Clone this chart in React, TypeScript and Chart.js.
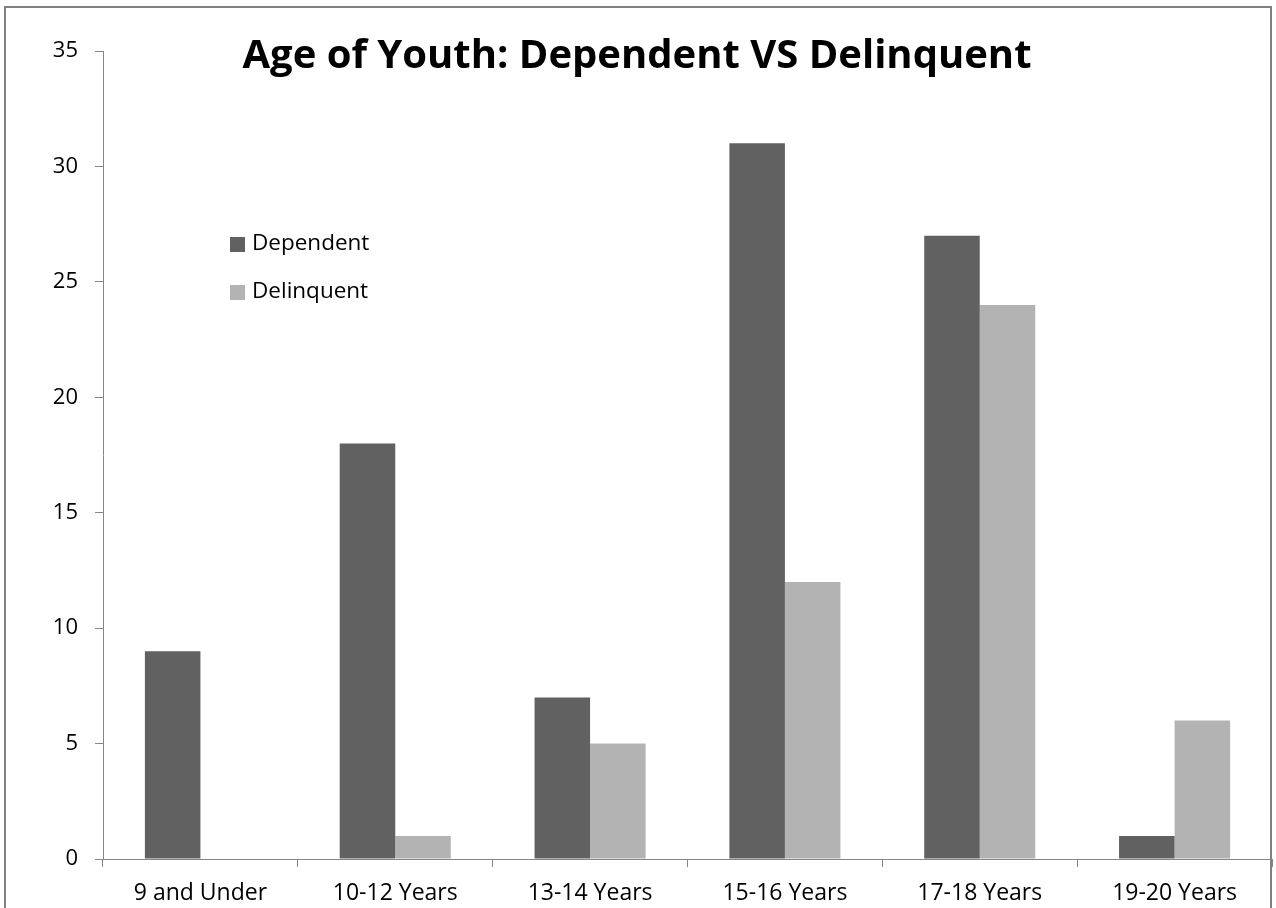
import React, { useEffect, useRef } from "react";
import { Chart, registerables } from "chart.js";

Chart.register(...registerables);

const categories = ["9 and Under", "10-12 Years", "13-14 Years", "15-16 Years", "17-18 Years", "19-20 Years"];
const dependentValues = [9, 18, 7, 31, 27, 1];
const delinquentValues = [0, 1, 5, 12, 24, 6];
const yTickValues = [0, 5, 10, 15, 20, 25, 30, 35];
const seriesLabels = ["Dependent", "Delinquent"];
const seriesColors = ["#616161", "#B3B3B3"];
const titleText = "Age of Youth: Dependent VS Delinquent";

const FONT = "'Open Sans', Lato, sans-serif";
const AXIS_COLOR = "#868686";

const framePlugin = {
  id: "frame",
  beforeDraw(chart: any) {
    const ctx = chart.ctx;
    ctx.save();
    ctx.fillStyle = "#ffffff";
    ctx.fillRect(0, 0, chart.width, chart.height);
    ctx.strokeStyle = "#808080";
    ctx.lineWidth = 2;
    ctx.strokeRect(5, 7, chart.width - 10, chart.height + 20);
    ctx.restore();
  },
};

const overlayPlugin = {
  id: "overlay",
  afterDraw(chart: any) {
    const ctx = chart.ctx;
    ctx.save();
    ctx.fillStyle = "#000000";
    ctx.font = `bold 40px ${FONT}`;
    ctx.textAlign = "center";
    ctx.textBaseline = "alphabetic";
    ctx.fillText(titleText, 637, 68);

    ctx.font = `22.5px ${FONT}`;
    ctx.textAlign = "left";
    ctx.textBaseline = "middle";
    chart.data.datasets.forEach((ds: any, i: number) => {
      const cy = 244 + i * 48;
      ctx.fillStyle = ds.backgroundColor;
      ctx.fillRect(230, cy - 7, 15, 15);
      ctx.fillStyle = "#000000";
      ctx.fillText(ds.label, 252, cy);
    });
    ctx.restore();
  },
};

export default function App() {
  const ref = useRef<HTMLCanvasElement>(null);

  useEffect(() => {
    if (!ref.current) return;
    const chart = new Chart(ref.current, {
      type: "bar",
      data: {
        labels: categories,
        datasets: [
          { label: seriesLabels[0], data: dependentValues, backgroundColor: seriesColors[0], borderWidth: 0 },
          { label: seriesLabels[1], data: delinquentValues, backgroundColor: seriesColors[1], borderWidth: 0 },
        ],
      },
      options: {
        responsive: false,
        animation: false,
        layout: { padding: { left: 0, top: 51, right: 4, bottom: 0 } },
        datasets: { bar: { categoryPercentage: 0.57, barPercentage: 1.0 } },
        plugins: {
          legend: { display: false },
          title: { display: false },
          tooltip: { enabled: false },
        },
        scales: {
          x: {
            grid: {
              display: true,
              drawOnChartArea: false,
              drawTicks: true,
              tickLength: 8,
              color: AXIS_COLOR,
              offset: true,
            },
            border: { display: true, color: AXIS_COLOR, width: 1 },
            ticks: { color: "#000000", padding: 13, font: { family: FONT, size: 23 }, maxRotation: 0 },
            afterFit(scale: any) {
              scale.height = 49;
            },
          },
          y: {
            min: 0,
            max: 35,
            afterBuildTicks(scale: any) {
              scale.ticks = yTickValues.map((v) => ({ value: v }));
            },
            grid: {
              display: true,
              drawOnChartArea: false,
              drawTicks: true,
              tickLength: 8,
              color: AXIS_COLOR,
            },
            border: { display: true, color: AXIS_COLOR, width: 1 },
            ticks: { color: "#000000", padding: 17, font: { family: FONT, size: 22 } },
            afterFit(scale: any) {
              scale.width = 103;
            },
          },
        },
      },
      plugins: [framePlugin, overlayPlugin],
    });
    return () => chart.destroy();
  }, []);

  return (
    <div style={{ position: "fixed", left: 0, top: 0, width: 1276, height: 908, background: "#fff" }}>
      <canvas ref={ref} width={1276} height={908} style={{ display: "block", width: 1276, height: 908 }} />
    </div>
  );
}
